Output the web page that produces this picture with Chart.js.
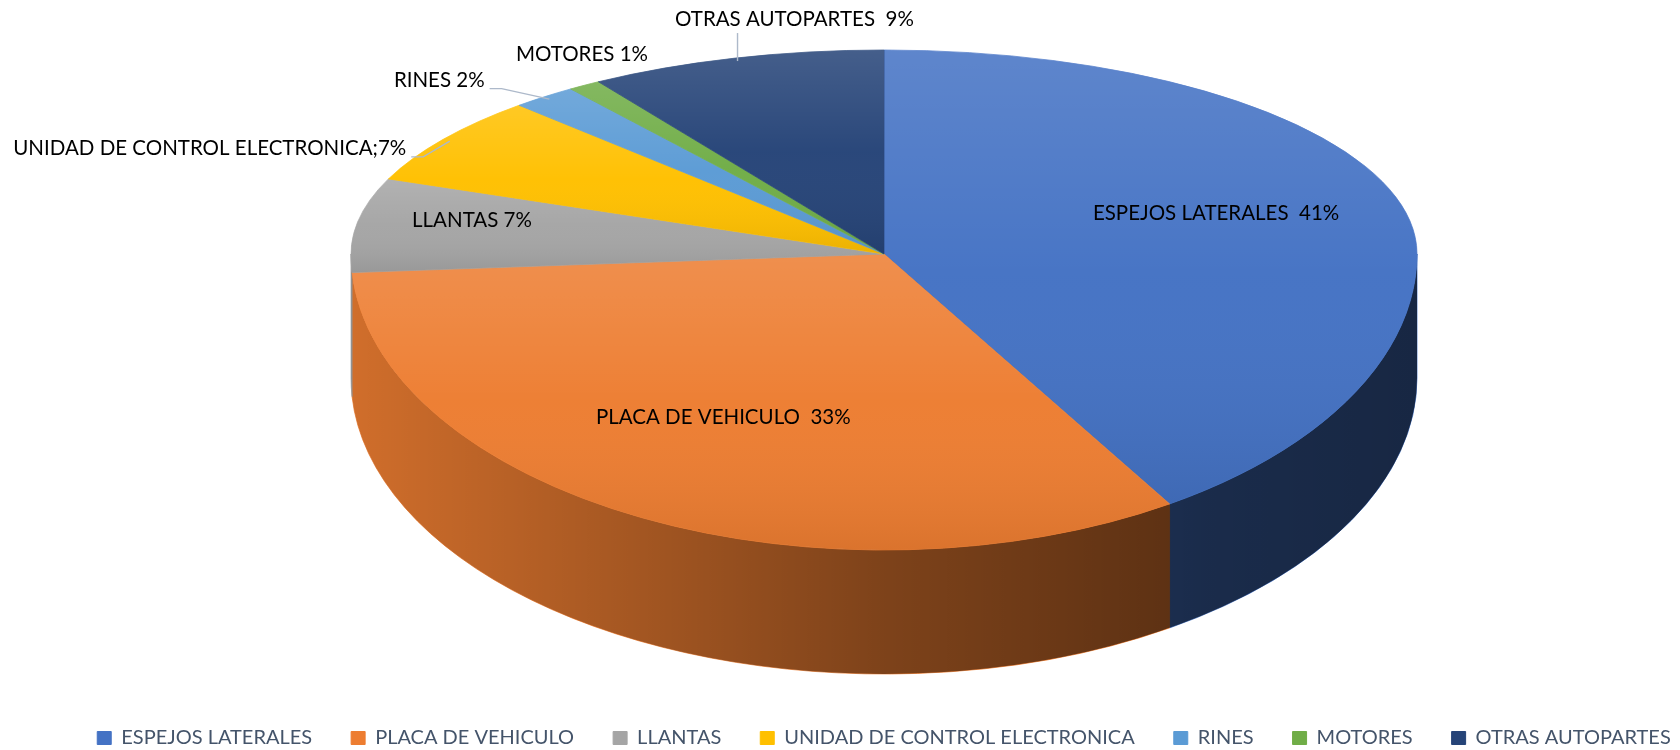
<!DOCTYPE html>
<html>
<head>
<meta charset="utf-8">
<script src="https://cdn.jsdelivr.net/npm/chart.js@4.4.1/dist/chart.umd.min.js"></script>
<style>
  html, body { margin: 0; padding: 0; background: #fff; }
  #wrap { width: 1680px; height: 750px; }
</style>
</head>
<body>
<div id="wrap"><canvas id="myChart"></canvas></div>
<script>
const categories = ['ESPEJOS LATERALES', 'PLACA DE VEHICULO', 'LLANTAS', 'UNIDAD DE CONTROL ELECTRONICA', 'RINES', 'MOTORES', 'OTRAS AUTOPARTES'];
const shares = [41, 33, 7, 7, 2, 1, 9];
const labelSeparators = ['  ', '  ', ' ', ';', ' ', ' ', '  '];
const sliceColors = ['#4472C4', '#ED7D31', '#A5A5A5', '#FFC000', '#5B9BD5', '#70AD47', '#264478'];

// fake 3d: top face squashed more at the back than at the front
const tilt = { back: 204 / 533, front: 296 / 533, depth: 124 };

// where the data labels sit: turn (deg) away from the slice middle, r = fraction of radius
const labelSpots = [
    { r: 0.654, turn: -1.5, align: 'center' },
    { r: 0.63, turn: 1.6, align: 'center' },
    { r: 0.79, turn: 2.9, align: 'center' },
    { r: 1.034, turn: -4.3, align: 'right', leader: true },
    { r: 1.133, turn: -1.8, align: 'right', leader: true },
    { r: 1.13, turn: 4.1, align: 'center' },
    { r: 1.164, turn: 7.9, align: 'center', leader: true }
];

function toScreen(cx, cy, R, ang, r) {
    const s = Math.sin(ang);
    return { x: cx + R * r * Math.cos(ang), y: cy + R * r * s * (s < 0 ? tilt.back : tilt.front) };
}

function pieFrame(chart) {
    const arcs = chart.getDatasetMeta(0).data;
    const { x, y, outerRadius } = arcs[0].getProps(['x', 'y', 'outerRadius'], true);
    const R = outerRadius;
    // pie sits over the middle of the legend row, like in the original
    const xs = (chart.legend.left + chart.legend.right) / 2;
    const cy = y - (R * tilt.front + tilt.depth - R * tilt.back) / 2;
    return { arcs, x, y, R, xs, cy };
}

const pie3d = {
    id: 'pie3d',
    beforeDatasetDraw(chart) {
        const ctx = chart.ctx;
        const { arcs, x, y, R, xs, cy } = pieFrame(chart);
        const squash = (k) => { ctx.translate(xs, cy); ctx.scale(1, k); ctx.translate(-x, -y); };

        // side wall (only the front half shows)
        ctx.save();
        squash(tilt.front);
        const drop = tilt.depth / tilt.front;
        arcs.forEach((arc) => {
            const { startAngle, endAngle } = arc.getProps(['startAngle', 'endAngle'], true);
            const a0 = Math.max(startAngle, 0), a1 = Math.min(endAngle, Math.PI);
            if (a1 <= a0) return;
            ctx.beginPath();
            ctx.arc(x, y, R, a0, a1);
            ctx.arc(x, y + drop, R, a1, a0, true);
            ctx.closePath();
            ctx.fillStyle = arc.options.backgroundColor;
            ctx.strokeStyle = arc.options.backgroundColor;
            ctx.lineWidth = 1;
            ctx.fill();
            ctx.stroke();
        });
        const shade = ctx.createLinearGradient(x - R, 0, x + R, 0);
        shade.addColorStop(0, 'rgba(0,0,0,0.12)');
        shade.addColorStop(0.5, 'rgba(0,0,0,0.47)');
        shade.addColorStop(0.8, 'rgba(0,0,0,0.62)');
        shade.addColorStop(1, 'rgba(0,0,0,0.66)');
        ctx.beginPath();
        ctx.arc(x, y, R, 0, Math.PI);
        ctx.arc(x, y + drop, R, Math.PI, 0, true);
        ctx.closePath();
        ctx.fillStyle = shade;
        ctx.fill();
        ctx.restore();

        // top face, back half and front half
        [[tilt.back, 0, cy + 1], [tilt.front, cy, chart.height]].forEach(([k, top, bottom]) => {
            ctx.save();
            ctx.beginPath();
            ctx.rect(0, top, chart.width, bottom - top);
            ctx.clip();
            squash(k);
            const toUser = (ys) => y + (ys - cy) / k;
            arcs.forEach((arc) => {
                arc.draw(ctx);
                const { startAngle, endAngle } = arc.getProps(['startAngle', 'endAngle'], true);
                let lo = cy, hi = cy;
                for (let t = 0; t <= 40; t++) {
                    const p = toScreen(xs, cy, R, startAngle + (endAngle - startAngle) * t / 40, 1);
                    lo = Math.min(lo, p.y);
                    hi = Math.max(hi, p.y);
                }
                const g = ctx.createLinearGradient(0, toUser(lo), 0, toUser(hi));
                g.addColorStop(0, 'rgba(255,255,255,0.14)');
                g.addColorStop(0.5, 'rgba(255,255,255,0.02)');
                g.addColorStop(1, 'rgba(0,0,0,0.08)');
                ctx.beginPath();
                ctx.moveTo(x, y);
                ctx.arc(x, y, R, startAngle, endAngle);
                ctx.closePath();
                ctx.fillStyle = g;
                ctx.fill();
            });
            ctx.restore();
        });
        return false;
    },
    afterDatasetsDraw(chart) {
        const ctx = chart.ctx;
        const { arcs, R, xs, cy } = pieFrame(chart);
        ctx.save();
        ctx.font = '20.5px Lato';
        ctx.textBaseline = 'middle';
        arcs.forEach((arc, i) => {
            const spot = labelSpots[i];
            const { startAngle, endAngle } = arc.getProps(['startAngle', 'endAngle'], true);
            const mid = (startAngle + endAngle) / 2;
            const p = toScreen(xs, cy, R, mid + spot.turn * Math.PI / 180, spot.r);
            const text = categories[i] + labelSeparators[i] + shares[i] + '%';
            ctx.textAlign = spot.align;
            ctx.fillStyle = '#000';
            ctx.fillText(text, p.x, p.y);
            if (!spot.leader) return;
            const rim = toScreen(xs, cy, R, mid, 0.985);
            ctx.strokeStyle = '#ADB9CA';
            ctx.lineWidth = 1.4;
            ctx.beginPath();
            if (spot.align === 'right') {
                const sx = p.x + 5, sy = p.y + 8;
                ctx.moveTo(sx, sy);
                ctx.lineTo(sx + 12, sy);
                ctx.lineTo(rim.x, rim.y);
            } else {
                const w = ctx.measureText(text).width;
                const lx = Math.min(Math.max(rim.x, p.x - w / 2 + 10), p.x + w / 2 - 10);
                ctx.moveTo(lx, p.y + 14);
                ctx.lineTo(lx, rim.y);
            }
            ctx.stroke();
        });
        ctx.restore();
    }
};

const myChart = document.querySelector('#myChart');
const chart = new Chart(myChart, {
    type: 'pie',
    data: {
        labels: categories,
        datasets: [{
            data: shares,
            backgroundColor: sliceColors,
            borderColor: sliceColors,
            borderWidth: 1,
            radius: 533
        }]
    },
    options: {
        responsive: true,
        maintainAspectRatio: false,
        animation: false,
        // right side runs past the canvas so the one-row legend has room and sits like the original
        layout: { padding: { top: 35, left: 0, right: -88, bottom: -8 } },
        plugins: {
            legend: {
                position: 'bottom',
                labels: {
                    boxWidth: 14,
                    boxHeight: 13,
                    padding: 39,
                    color: '#44546A',
                    font: { family: 'Lato', size: 20 }
                }
            },
            tooltip: { enabled: false }
        }
    },
    plugins: [pie3d]
});
</script>
</body>
</html>
